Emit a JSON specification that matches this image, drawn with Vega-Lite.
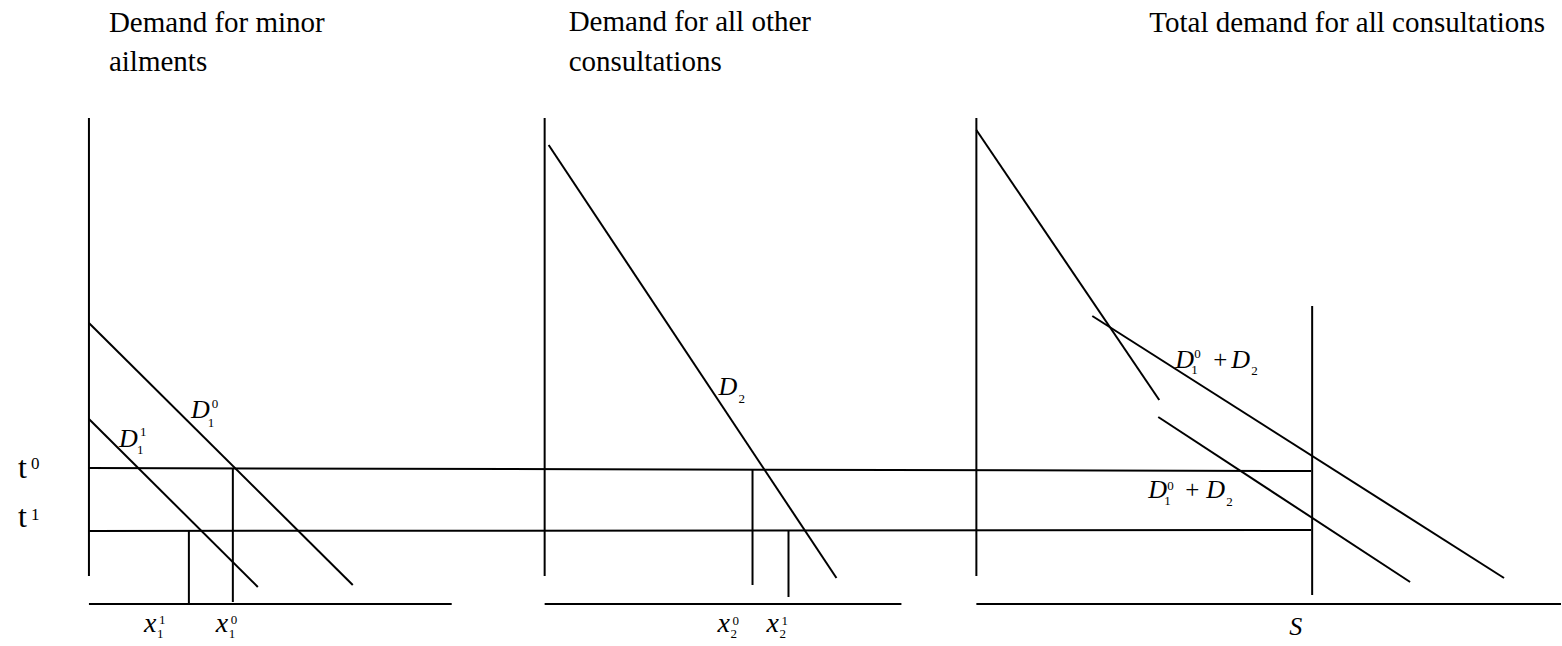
{
  "$schema": "https://vega.github.io/schema/vega-lite/v6.json",
  "width": 1562,
  "height": 646,
  "autosize": {"type": "fit", "contains": "padding"},
  "padding": 0,
  "background": "white",
  "config": {"view": {"stroke": null}, "text": {"font": "Liberation Serif, Times New Roman, serif"}},
  "datasets": {
    "lines": [
      {"x": 89, "y": 118, "x2": 89, "y2": 576},
      {"x": 89, "y": 604, "x2": 452, "y2": 604},
      {"x": 89, "y": 323, "x2": 353, "y2": 585},
      {"x": 89, "y": 419, "x2": 258, "y2": 587},
      {"x": 233, "y": 469, "x2": 233, "y2": 602},
      {"x": 189, "y": 531, "x2": 189, "y2": 604},
      {"x": 89, "y": 468, "x2": 1312, "y2": 471},
      {"x": 89, "y": 531, "x2": 1312, "y2": 530},
      {"x": 545, "y": 118, "x2": 545, "y2": 576},
      {"x": 545, "y": 604, "x2": 902, "y2": 604},
      {"x": 549, "y": 145, "x2": 837, "y2": 578},
      {"x": 753, "y": 470, "x2": 753, "y2": 585},
      {"x": 789, "y": 531, "x2": 789, "y2": 597},
      {"x": 977, "y": 118, "x2": 977, "y2": 576},
      {"x": 977, "y": 604, "x2": 1562, "y2": 604},
      {"x": 977, "y": 130, "x2": 1160, "y2": 400},
      {"x": 1093, "y": 316, "x2": 1505, "y2": 578},
      {"x": 1159, "y": 417, "x2": 1411, "y2": 582},
      {"x": 1313, "y": 306, "x2": 1313, "y2": 595}
    ],
    "titles": [
      {"x": 109, "y": 32, "s": "Demand for minor"},
      {"x": 109, "y": 71, "s": "ailments"},
      {"x": 569, "y": 31, "s": "Demand for all other"},
      {"x": 569, "y": 71, "s": "consultations"},
      {"x": 1150, "y": 32, "s": "Total demand for all consultations"}
    ],
    "tbase": [
      {"x": 18, "y": 478, "s": "t"},
      {"x": 18, "y": 527, "s": "t"}
    ],
    "base": [
      {"x": 191, "y": 418, "s": "D"},
      {"x": 119, "y": 447, "s": "D"},
      {"x": 719, "y": 395, "s": "D"},
      {"x": 1290, "y": 635, "s": "S"},
      {"x": 1176, "y": 368, "s": "D"},
      {"x": 1232, "y": 368, "s": "D"},
      {"x": 1149, "y": 498, "s": "D"},
      {"x": 1207, "y": 498, "s": "D"}
    ],
    "xbase": [
      {"x": 144, "y": 632, "s": "x"},
      {"x": 216, "y": 632, "s": "x"},
      {"x": 718, "y": 632, "s": "x"},
      {"x": 767, "y": 632, "s": "x"}
    ],
    "ops": [
      {"x": 1214, "y": 368, "s": "+"},
      {"x": 1186, "y": 498, "s": "+"}
    ],
    "tsup": [
      {"x": 31, "y": 469, "s": "0"},
      {"x": 31, "y": 520, "s": "1"}
    ],
    "sup": [
      {"x": 212, "y": 408, "s": "0"},
      {"x": 140, "y": 436, "s": "1"},
      {"x": 159, "y": 624, "s": "1"},
      {"x": 231, "y": 624, "s": "0"},
      {"x": 733, "y": 625, "s": "0"},
      {"x": 782, "y": 625, "s": "1"},
      {"x": 1195, "y": 358, "s": "0"},
      {"x": 1168, "y": 490, "s": "0"}
    ],
    "sub": [
      {"x": 208, "y": 427, "s": "1"},
      {"x": 137, "y": 454, "s": "1"},
      {"x": 739, "y": 403, "s": "2"},
      {"x": 157, "y": 638, "s": "1"},
      {"x": 229, "y": 638, "s": "1"},
      {"x": 731, "y": 638, "s": "2"},
      {"x": 780, "y": 638, "s": "2"},
      {"x": 1192, "y": 374, "s": "1"},
      {"x": 1252, "y": 375, "s": "2"},
      {"x": 1165, "y": 505, "s": "1"},
      {"x": 1227, "y": 506, "s": "2"}
    ]
  },
  "layer": [
    {
      "data": {"name": "lines"},
      "mark": {"type": "rule", "color": "black", "strokeWidth": 2},
      "encoding": {
        "x": {"field": "x", "type": "quantitative", "scale": {"domain": [0, 1562], "nice": false, "zero": false}, "axis": null},
        "y": {"field": "y", "type": "quantitative", "scale": {"domain": [0, 646], "nice": false, "zero": false, "reverse": true}, "axis": null},
        "x2": {"field": "x2"},
        "y2": {"field": "y2"}
      }
    },
    {
      "data": {"name": "titles"},
      "mark": {"type": "text", "fontSize": 29, "align": "left", "baseline": "alphabetic", "color": "black"},
      "encoding": {
        "x": {"field": "x", "type": "quantitative"},
        "y": {"field": "y", "type": "quantitative"},
        "text": {"field": "s"}
      }
    },
    {
      "data": {"name": "tbase"},
      "mark": {"type": "text", "fontSize": 32, "align": "left", "baseline": "alphabetic", "color": "black"},
      "encoding": {
        "x": {"field": "x", "type": "quantitative"},
        "y": {"field": "y", "type": "quantitative"},
        "text": {"field": "s"}
      }
    },
    {
      "data": {"name": "base"},
      "mark": {"type": "text", "fontSize": 26, "fontStyle": "italic", "align": "left", "baseline": "alphabetic", "color": "black"},
      "encoding": {
        "x": {"field": "x", "type": "quantitative"},
        "y": {"field": "y", "type": "quantitative"},
        "text": {"field": "s"}
      }
    },
    {
      "data": {"name": "xbase"},
      "mark": {"type": "text", "fontSize": 28, "fontStyle": "italic", "align": "left", "baseline": "alphabetic", "color": "black"},
      "encoding": {
        "x": {"field": "x", "type": "quantitative"},
        "y": {"field": "y", "type": "quantitative"},
        "text": {"field": "s"}
      }
    },
    {
      "data": {"name": "ops"},
      "mark": {"type": "text", "fontSize": 25, "align": "left", "baseline": "alphabetic", "color": "black"},
      "encoding": {
        "x": {"field": "x", "type": "quantitative"},
        "y": {"field": "y", "type": "quantitative"},
        "text": {"field": "s"}
      }
    },
    {
      "data": {"name": "tsup"},
      "mark": {"type": "text", "fontSize": 17, "align": "left", "baseline": "alphabetic", "color": "black"},
      "encoding": {
        "x": {"field": "x", "type": "quantitative"},
        "y": {"field": "y", "type": "quantitative"},
        "text": {"field": "s"}
      }
    },
    {
      "data": {"name": "sup"},
      "mark": {"type": "text", "fontSize": 13, "align": "left", "baseline": "alphabetic", "color": "black"},
      "encoding": {
        "x": {"field": "x", "type": "quantitative"},
        "y": {"field": "y", "type": "quantitative"},
        "text": {"field": "s"}
      }
    },
    {
      "data": {"name": "sub"},
      "mark": {"type": "text", "fontSize": 13, "align": "left", "baseline": "alphabetic", "color": "black"},
      "encoding": {
        "x": {"field": "x", "type": "quantitative"},
        "y": {"field": "y", "type": "quantitative"},
        "text": {"field": "s"}
      }
    }
  ]
}
